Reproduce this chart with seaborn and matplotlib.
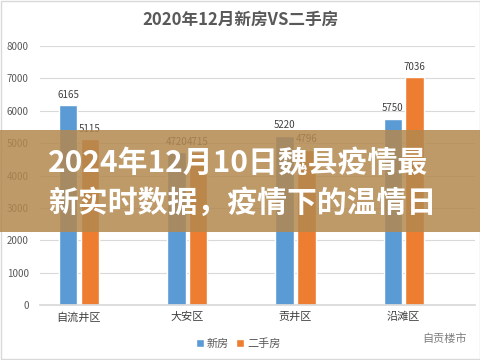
import matplotlib
matplotlib.use("Agg")
import matplotlib.pyplot as plt
import seaborn as sns
import pandas as pd
from matplotlib.patches import Rectangle

districts = ["自流井区", "大安区", "贡井区", "沿滩区"]
new_homes = [6165, 4720, 5220, 5750]
resale_homes = [5115, 4715, 4796, 7036]
series_names = ["新房", "二手房"]

df = pd.DataFrame({
    "district": districts * 2,
    "kind": [series_names[0]] * 4 + [series_names[1]] * 4,
    "value": new_homes + resale_homes,
})

sns.set_theme(style="white")
plt.rcParams["font.family"] = ["Noto Sans CJK SC", "DejaVu Sans"]

fig = plt.figure(figsize=(4.81, 3.6), dpi=100)
ax = fig.add_axes([0.083, 0.153, 0.905, 0.719])

sns.barplot(data=df, x="district", y="value", hue="kind",
            palette=["#5B9BD5", "#ED7D31"], width=0.4, gap=0.15,
            saturation=1, ax=ax, legend=True)

for cont in ax.containers:
    ax.bar_label(cont, fmt="%d", padding=4, fontsize=7, color="#404040")

ax.set_ylim(0, 8000)
ax.set_xlim(-0.36, 3.66)
ax.set_yticks(range(0, 8001, 1000))
ax.yaxis.grid(True, color="#d9d9d9", linewidth=0.8)
ax.set_axisbelow(True)
for s in ["top", "right", "left"]:
    ax.spines[s].set_visible(False)
ax.spines["bottom"].set_color("#d9d9d9")
ax.tick_params(axis="y", labelsize=7, colors="#595959", length=0, pad=8)
ax.tick_params(axis="x", labelsize=8, colors="#404040", length=0, pad=5)
ax.set_xlabel("")
ax.set_ylabel("")

leg = ax.legend(loc="upper center", bbox_to_anchor=(0.455, -0.09), ncol=2,
                frameon=False, fontsize=8, handlelength=0.7, handleheight=0.7,
                columnspacing=0.6, handletextpad=0.3)
for t in leg.get_texts():
    t.set_color("#595959")

fig.text(0.5, 0.945, "2020年12月新房VS二手房", ha="center", va="center",
         fontsize=12, fontweight="bold", color="#595959")

fig.text(0.925, 0.06, "自贡楼市", ha="center", va="center", fontsize=8, color="#7f7f7f")

# overlay banner
fig.patches.append(Rectangle((0, 1 - 232 / 360), 1, 102 / 360, transform=fig.transFigure,
                             facecolor="#b3884f", alpha=0.85, edgecolor="none", zorder=5))
fig.text(0.1, 1 - 163 / 360, "2024年12月10日魏县疫情最", ha="left", va="center",
         fontsize=21.5, fontweight="bold", color="white", zorder=6)
fig.text(0.1, 1 - 203 / 360, "新实时数据，疫情下的温情日", ha="left", va="center",
         fontsize=21.5, fontweight="bold", color="white", zorder=6)

fig.patches.append(Rectangle((0.002, 0.003), 0.995, 0.994, transform=fig.transFigure,
                             facecolor="none", edgecolor="#d9d9d9", linewidth=1))

fig.savefig("out.png", dpi=100)
